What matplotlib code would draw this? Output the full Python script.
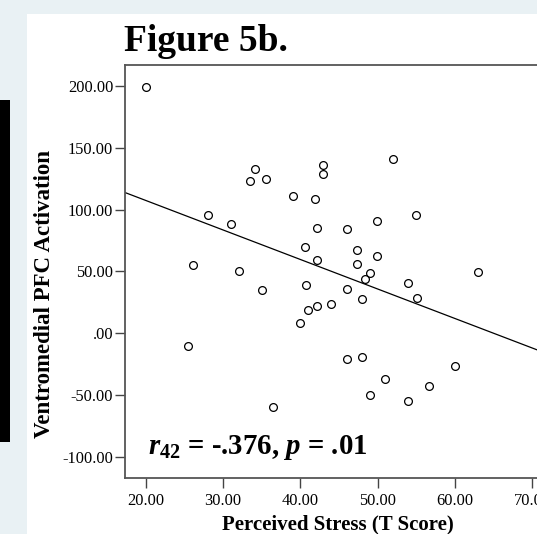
import numpy as np
import matplotlib
matplotlib.use('Agg')
import matplotlib.pyplot as plt
from matplotlib.patches import Rectangle

# perceived stress (T score) vs ventromedial PFC activation, 44 subjects
stress = [20.0, 34.1, 33.5, 35.5, 28.0, 31.0, 26.1, 32.0, 35.0, 25.4,
          43.0, 43.0, 52.0, 39.0, 41.9, 42.2, 46.1, 49.9, 55.0, 40.6,
          42.2, 47.4, 49.9, 47.4, 49.0, 48.4, 63.0, 40.8, 46.0, 48.0,
          54.0, 55.1, 41.0, 42.2, 44.0, 40.0, 46.0, 48.0, 60.0, 51.0,
          56.7, 49.0, 54.0, 36.5]
activation = [199.0, 132.6, 123.0, 125.0, 95.4, 88.0, 55.0, 50.0, 34.8, -10.5,
              136.4, 129.0, 141.2, 110.8, 108.3, 85.4, 84.1, 90.8, 95.4, 69.8,
              59.6, 67.0, 62.2, 55.8, 48.8, 43.7, 49.3, 38.8, 35.6, 27.7,
              40.4, 28.9, 18.6, 22.1, 24.0, 8.6, -21.0, -19.1, -26.7, -37.2,
              -42.8, -49.9, -55.0, -59.6]

xticks = [20, 30, 40, 50, 60, 70]
xtick_labels = ['20.00', '30.00', '40.00', '50.00', '60.00', '70.00']
yticks = [-100, -50, 0, 50, 100, 150, 200]
ytick_labels = ['-100.00', '-50.00', '.00', '50.00', '100.00', '150.00', '200.00']

plt.rcParams['font.family'] = ['Liberation Serif', 'DejaVu Serif']
plt.rcParams['mathtext.fontset'] = 'custom'
plt.rcParams['mathtext.rm'] = 'Liberation Serif:bold'
plt.rcParams['mathtext.it'] = 'Liberation Serif:italic:bold'
plt.rcParams['mathtext.bf'] = 'Liberation Serif:bold'

fig = plt.figure(figsize=(5.37, 5.34), dpi=100)
fig.patch.set_facecolor('#e9f1f4')

# white panel and black bar on the left
fig.patches.append(Rectangle((0.0503, 0), 1, 0.9738, transform=fig.transFigure,
                             facecolor='white', edgecolor='none', zorder=-10))
fig.patches.append(Rectangle((0, 0.1723), 0.0186, 0.6404, transform=fig.transFigure,
                             facecolor='black', edgecolor='none', zorder=-10))

ax = fig.add_axes([0.2328, 0.1049, 0.8298, 0.7734])
ax.set_zorder(1)
ax.set_facecolor('white')

ax.plot(stress, activation, 'o', markersize=5.6, markerfacecolor='none',
        markeredgecolor='black', markeredgewidth=0.9, clip_on=False)

# fit line
slope, intercept = np.polyfit(stress, activation, 1)
xs = np.array([17.3, 75])
ax.plot(xs, slope * xs + intercept, color='black', lw=0.9)

ax.set_xlim(17.3, 75)
ax.set_ylim(-117, 217)
ax.set_xticks(xticks)
ax.set_xticklabels(xtick_labels)
ax.set_yticks(yticks)
ax.set_yticklabels(ytick_labels)
ax.tick_params(axis='both', direction='out', length=7.5, width=1.0,
               color='#444444', labelsize=11.8, pad=1)
ax.tick_params(axis='x', pad=3)
for s in ['left', 'bottom', 'top']:
    ax.spines[s].set_color('#555555')
    ax.spines[s].set_linewidth(1.3)
ax.spines['right'].set_visible(False)

fig.text(124 / 537, 1 - 51 / 534, 'Figure 5b.', fontsize=27, fontweight='bold',
         ha='left', va='baseline')
fig.text(338 / 537, 1 - 529 / 534, 'Perceived Stress (T Score)', fontsize=15,
         fontweight='bold', ha='center', va='baseline')
fig.text(45 / 537, 1 - 294 / 534, 'Ventromedial PFC Activation', fontsize=16.5,
         fontweight='bold', rotation=90, ha='center', va='center')

ax.text(20.3, -98, r'$\mathit{r}_{42}$ = -.376, $\mathit{p}$ = .01', fontsize=20.8,
        fontweight='bold', ha='left', va='baseline')

fig.savefig('out.png', dpi=100, facecolor=fig.get_facecolor())
